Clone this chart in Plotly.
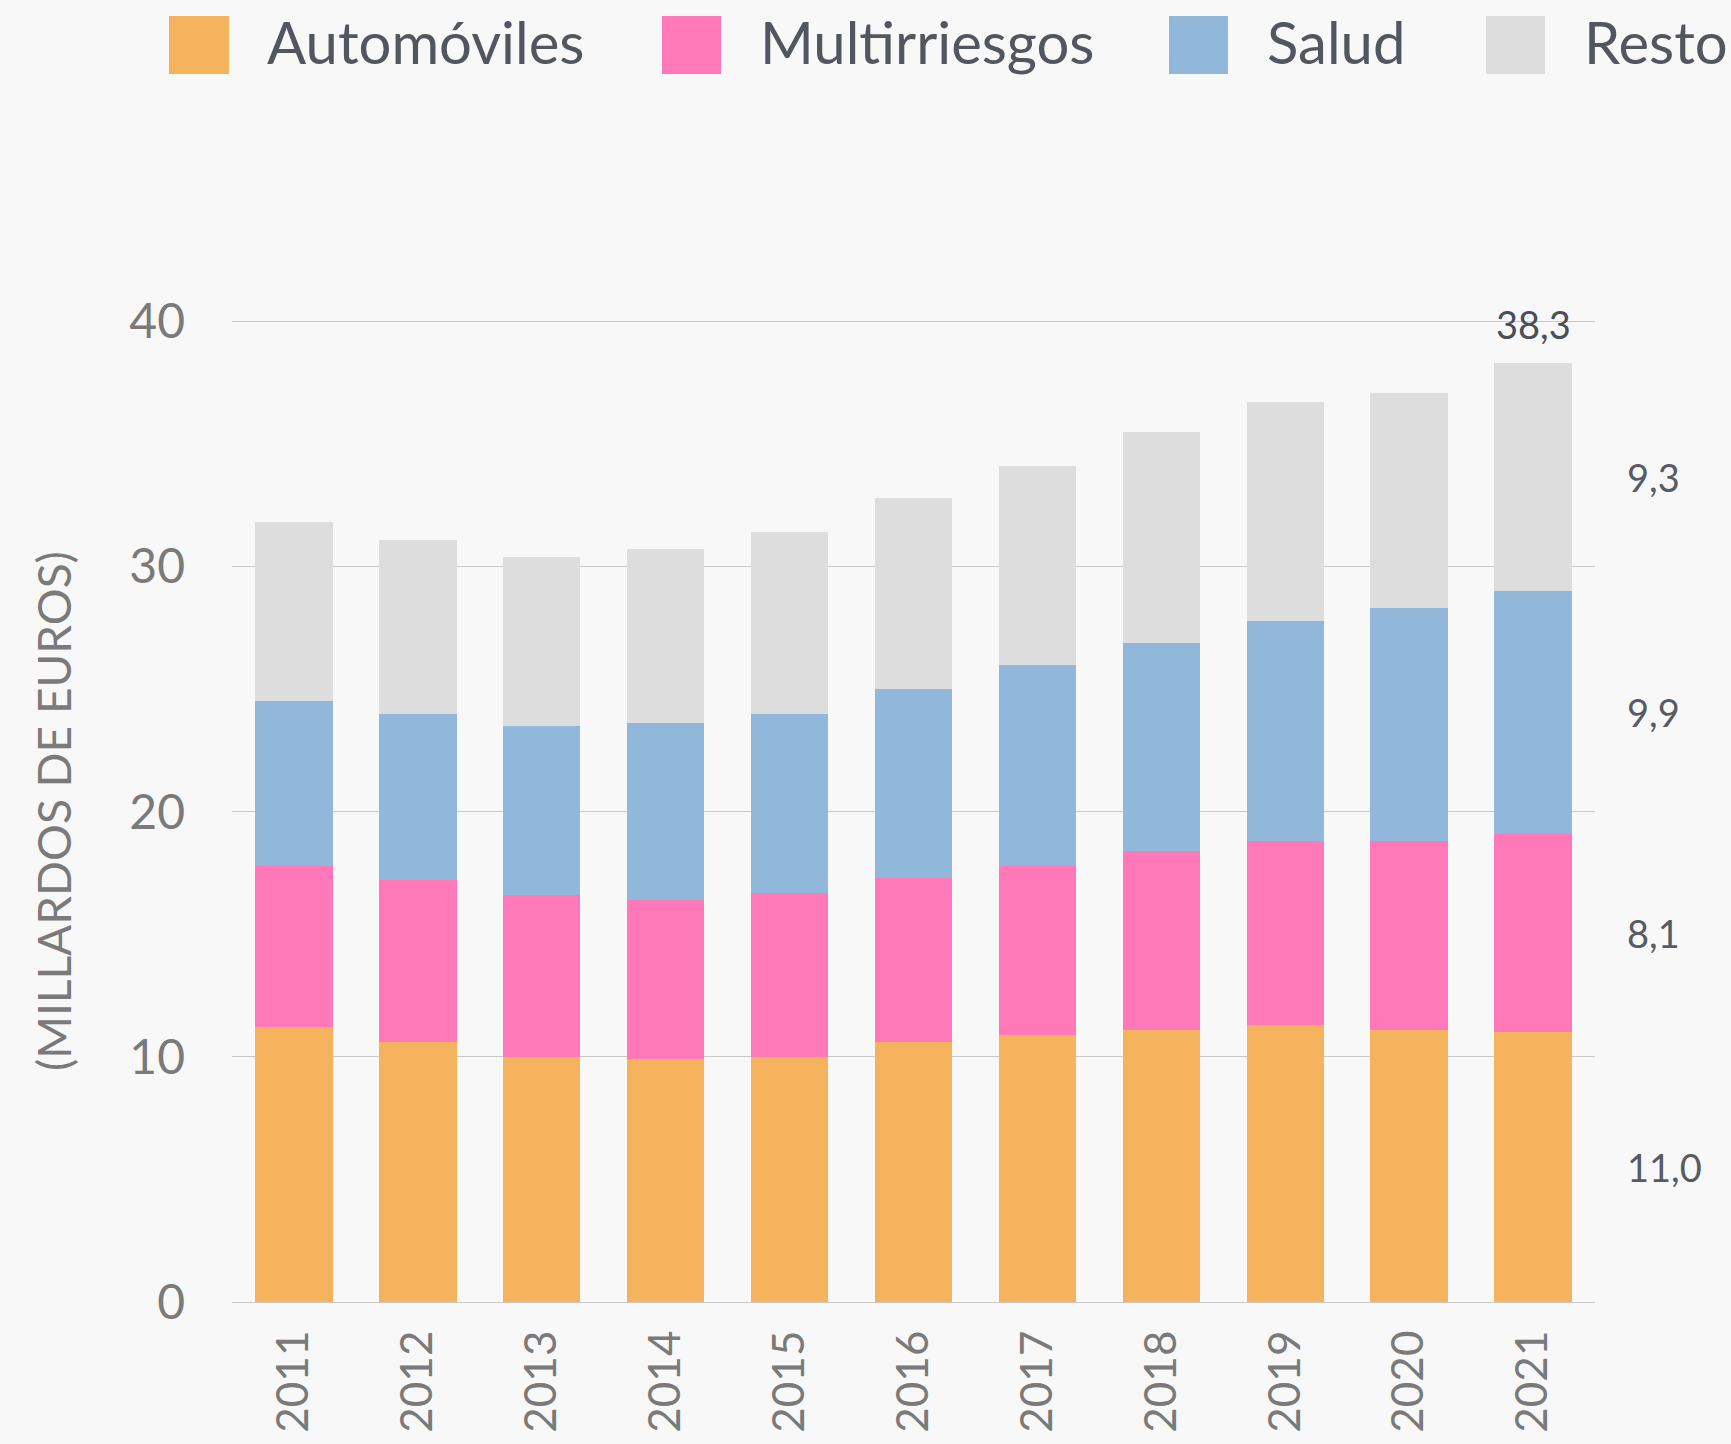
import plotly.graph_objects as go

years = ["2011", "2012", "2013", "2014", "2015", "2016", "2017", "2018", "2019", "2020", "2021"]
automoviles = [11.2, 10.6, 10.0, 9.9, 10.0, 10.6, 10.9, 11.1, 11.3, 11.1, 11.0]
multirriesgos = [6.6, 6.6, 6.6, 6.5, 6.7, 6.7, 6.9, 7.3, 7.5, 7.7, 8.1]
salud = [6.7, 6.8, 6.9, 7.2, 7.3, 7.7, 8.2, 8.5, 9.0, 9.5, 9.9]
resto = [7.3, 7.1, 6.9, 7.1, 7.4, 7.8, 8.1, 8.6, 8.9, 8.8, 9.3]
series_names = ["Automóviles", "Multirriesgos", "Salud", "Resto"]
colors = ["#F5B35E", "#FF78B8", "#91B7DB", "#DDDDDD"]
y_title = "(MILLARDOS DE EUROS)"

W, H = 1731, 1444
L, R, T, B = 232, 136, 320, 142
pw, ph = W - L - R, H - T - B

series = [automoviles, multirriesgos, salud, resto]
fig = go.Figure()
for name, vals, col in zip(series_names, series, colors):
    fig.add_trace(go.Bar(x=years, y=vals, name=name, marker=dict(color=col, line=dict(width=0)),
                         showlegend=False))

tick_font = dict(family="Lato", size=48, color="#7a7a7a")
fig.update_layout(
    width=W, height=H,
    margin=dict(l=L, r=R, t=T, b=B, autoexpand=False),
    barmode="stack", bargap=0.375,
    paper_bgcolor="#F8F8F8", plot_bgcolor="#F8F8F8",
    showlegend=False,
    xaxis=dict(type="category", range=[-0.5, len(years) - 0.5], tickangle=-90,
               tickfont=dict(family="Lato", size=44, color="#7a7a7a"), showgrid=False,
               showline=True, linecolor="#C8C8C8", linewidth=1, ticklabelstandoff=10,
               automargin=False),
    yaxis=dict(range=[0, 40.06], tickvals=[0, 10, 20, 30, 40], tickfont=tick_font,
               gridcolor="#C8C8C8", gridwidth=1, zeroline=False, showline=False,
               ticklabelstandoff=46, automargin=False),
)

# Y-axis title
fig.add_annotation(xref="paper", yref="paper", x=(53 - L) / pw, y=0.5, text=y_title,
                   textangle=-90, showarrow=False, xanchor="center", yanchor="middle",
                   font=dict(family="Lato", size=46, color="#7a7a7a"))

# Right-hand value labels for last year
last = len(years) - 1
cum = 0
for vals in series:
    v = vals[last]
    mid = cum + v / 2
    cum += v
    fig.add_annotation(xref="paper", yref="y", x=(1625 - L) / pw, y=mid,
                       text=f"{v:.1f}".replace(".", ","), showarrow=False,
                       xanchor="left", yanchor="middle",
                       font=dict(family="Lato", size=38, color="#575b63"))

total_last = sum(s[last] for s in series)
fig.add_annotation(xref="x", x=last, y=total_last, text=f"{total_last:.1f}".replace(".", ","),
                   showarrow=False, xanchor="center", yanchor="bottom", yshift=14,
                   font=dict(family="Lato", size=38, color="#4a4e56"))

# Custom legend
leg = [(169, 229, 265), (662, 721, 758), (1169, 1228, 1265), (1486, 1545, 1582)]
for (x0, x1, tx), name, col in zip(leg, series_names, colors):
    fig.add_shape(type="rect", xref="paper", yref="paper",
                  x0=(x0 - L) / pw, x1=(x1 - L) / pw,
                  y0=(H - B - 74) / ph, y1=(H - B - 16) / ph,
                  fillcolor=col, line=dict(width=0))
    fig.add_annotation(xref="paper", yref="paper", x=(tx - L) / pw, y=(H - B - 41) / ph,
                       text=name, showarrow=False, xanchor="left", yanchor="middle",
                       font=dict(family="Lato", size=58, color="#52565e"))

fig.write_html("out.html", config={"displayModeBar": False},
               post_script="document.body.style.margin='0';document.body.style.overflow='hidden';")
